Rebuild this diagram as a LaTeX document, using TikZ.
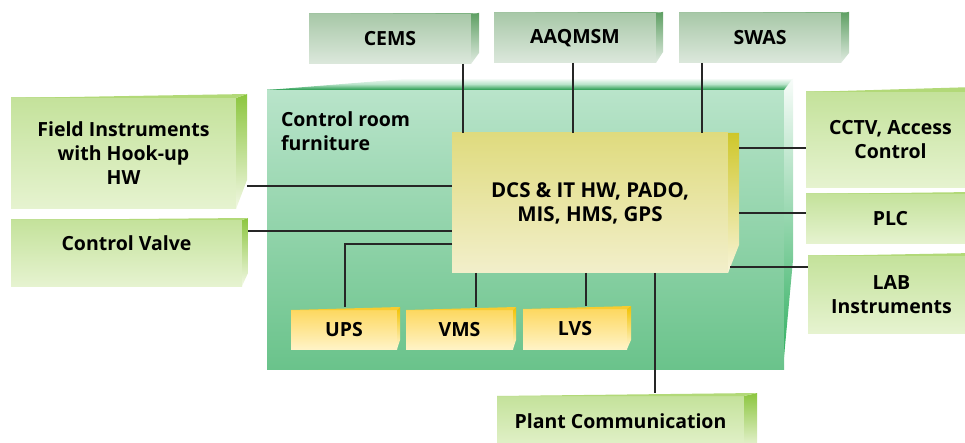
\documentclass[tikz,border=0pt]{standalone}
\usepackage{fontspec}
\setmainfont{Open Sans}
\usetikzlibrary{calc}
\definecolor{roomtop}{HTML}{B9E4CA}
\definecolor{roombot}{HTML}{6AC38B}
\definecolor{roomside}{HTML}{34B163}
\definecolor{roomedge}{HTML}{22994A}
\definecolor{lgtop}{HTML}{C4E29B}
\definecolor{lgbot}{HTML}{E6F3D0}
\definecolor{lgside}{HTML}{8CC63F}
\definecolor{lgsideb}{HTML}{F2F8E4}
\definecolor{lgwedge}{HTML}{B2D978}
\definecolor{gtop}{HTML}{A8C8A8}
\definecolor{gbot}{HTML}{DCE8DC}
\definecolor{gside}{HTML}{5E9F63}
\definecolor{gsideb}{HTML}{E2ECE2}
\definecolor{gwedge}{HTML}{7FB382}
\definecolor{ytop}{HTML}{FDD860}
\definecolor{ybot}{HTML}{FFF3C6}
\definecolor{yside}{HTML}{F2C200}
\definecolor{ysideb}{HTML}{FFF6D6}
\definecolor{ywedge}{HTML}{F8CC30}
\definecolor{dtop}{HTML}{DFDB7E}
\definecolor{dbot}{HTML}{F2EFCB}
\definecolor{dside}{HTML}{CFC72A}
\definecolor{dsideb}{HTML}{F8F5DA}
\newcommand\sidefaces[7]{%
  \shade[top color=#5, bottom color=#6] (#1.north east) -- ++(#2,-#3) -- ($(#1.south east)+(#2,-#4)$) -- (#1.south east) -- cycle;
  \fill[#7] (#1.north west) -- ($(#1.north east)+(#2,-#3)$) -- (#1.north east) -- cycle;
}
\begin{document}
\begin{tikzpicture}[x=1pt,y=-1pt,
  every node/.style={font=\bfseries\fontsize{19.5}{24}\selectfont, align=center, inner sep=0pt, outer sep=0pt},
  lgbox/.style={top color=lgtop, bottom color=lgbot, anchor=north west},
  gbox/.style={top color=gtop, bottom color=gbot, anchor=north west},
  ybox/.style={top color=ytop, bottom color=ybot, anchor=north west},
  wire/.style={line width=1.3pt, black!85}]
\useasboundingbox (0,0) rectangle (965,443);
\clip (0,0) rectangle (965,443);
% control room
\node[top color=roomtop, bottom color=roombot, minimum width=517pt, minimum height=279pt, anchor=north west] (room) at (267,90) {};
\shade[top color=white!90!roomtop, bottom color=roomside] (room.north east) -- ++(9,-12) -- ($(room.north east)+(9,170)$) -- ($(room.south east)+(0,-12)$) -- cycle;
\shade[top color=white, bottom color=roomedge, middle color=roomtop] (room.north west) -- ++(13,-1) -- ($(room.north west)+(150,-12)$) -- ($(room.north east)+(9,-12)$) -- (room.north east) -- cycle;
\node[anchor=west, align=left] (roomlabel) at (281,131) {Control room\\furniture};
% top boxes
\node[gbox, minimum width=162pt, minimum height=50pt] (cems) at (309,14) {CEMS};
\sidefaces{cems}{8}{1}{11}{gside}{gsideb}{gwedge}
\node[gbox, minimum width=162pt, minimum height=50pt] (aaq) at (494,13) {AAQMSM};
\sidefaces{aaq}{7}{1}{11}{gside}{gsideb}{gwedge}
\node[gbox, minimum width=162pt, minimum height=50pt] (swas) at (679,13) {SWAS};
\sidefaces{swas}{8}{1}{10}{gside}{gsideb}{gwedge}
% left boxes
\node[lgbox, minimum width=225pt, minimum height=111pt] (field) at (11,98) {Field Instruments\\with Hook-up\\HW};
\sidefaces{field}{11}{4}{29}{lgside}{lgsideb}{lgwedge}
\node[lgbox, minimum width=231pt, minimum height=66pt, label={[yshift=10pt]center:Control Valve}] (cv) at (11,220) {};
\sidefaces{cv}{6}{2}{13}{lgside}{lgsideb}{lgwedge}
% right boxes
\node[lgbox, minimum width=169pt, minimum height=96pt] (cctv) at (806,92) {CCTV, Access\\Control};
\fill[lgwedge] (cctv.north west) -- ++(169,-5) -- (cctv.north east) -- cycle;
\node[lgbox, minimum width=169pt, minimum height=50pt] (plc) at (806,194) {PLC};
\fill[lgwedge] (plc.north west) -- ++(169,-2) -- (plc.north east) -- cycle;
\node[lgbox, minimum width=167pt, minimum height=77pt] (lab) at (808,256) {LAB\\Instruments};
\fill[lgwedge] (lab.north west) -- ++(167,-3) -- (lab.north east) -- cycle;
% plant communication
\node[lgbox, minimum width=247pt, minimum height=58pt, label={[yshift=4pt]center:Plant Communication}] (plant) at (497,396) {};
\sidefaces{plant}{13}{3}{0}{lgside}{lgsideb}{lgwedge}
% DCS
\node[top color=dtop, bottom color=dbot, minimum width=276pt, minimum height=140pt, anchor=north west, font=\bfseries\fontsize{20.5}{24}\selectfont] (dcs) at (452,133) {DCS \& IT HW, PADO,\\MIS, HMS, GPS};
\shade[top color=dside, bottom color=dsideb] (dcs.north east) -- ++(11,0) -- ($(dcs.south east)+(11,-28)$) -- (dcs.south east) -- cycle;
% bottom yellow boxes
\node[ybox, minimum width=106pt, minimum height=39pt] (ups) at (291,310) {UPS};
\sidefaces{ups}{3}{3}{9}{yside}{ysideb}{ywedge}
\node[ybox, minimum width=107pt, minimum height=39pt] (vms) at (406,310) {VMS};
\sidefaces{vms}{3}{3}{9}{yside}{ysideb}{ywedge}
\node[ybox, minimum width=104pt, minimum height=40pt] (lvs) at (523,309) {LVS};
\sidefaces{lvs}{4}{3}{9}{yside}{ysideb}{ywedge}
% connectors
\draw[wire] (cems.south -| 463,0) -- (dcs.north -| 463,0);
\draw[wire] (aaq.south -| 573,0) -- (dcs.north -| 573,0);
\draw[wire] (swas.south -| 702,0) -- (dcs.north -| 702,0);
\draw[wire] (field.east |- 0,186) ++(11,0) -- (dcs.west |- 0,186);
\draw[wire] (cv.east |- 0,231) ++(6,0) -- (dcs.west |- 0,231);
\draw[wire] (dcs.west |- 0,244) -| ($(ups.north)+(1,-3)$);
\draw[wire] (dcs.south -| 476,0) -- ($(vms.north -| 476,0)+(0,-3)$);
\draw[wire] (dcs.south -| 586,0) -- ($(lvs.north -| 586,0)+(0,-3)$);
\draw[wire] (dcs.south -| 655,0) -- ($(plant.north -| 655,0)+(0,-3)$);
\draw[wire] (dcs.east |- 0,148) ++(11,0) -- (cctv.west |- 0,148);
\draw[wire] (dcs.east |- 0,213) ++(11,0) -- (plc.west |- 0,213);
\draw[wire] (dcs.east |- 0,267) ++(2,0) -- (lab.west |- 0,267);
\end{tikzpicture}
\end{document}
